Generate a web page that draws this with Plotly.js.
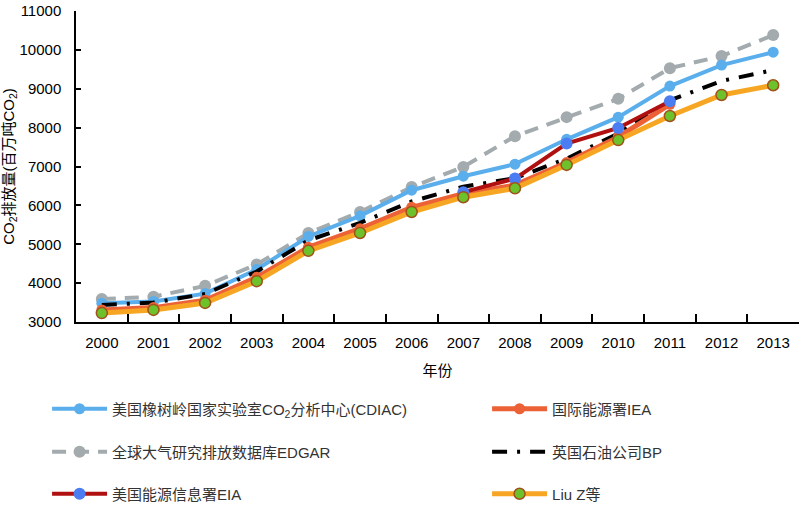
<!DOCTYPE html>
<html>
<head>
<meta charset="utf-8">
<script src="https://cdn.plot.ly/plotly-3.0.1.min.js"></script>
<style>html,body{margin:0;padding:0;background:#fff;}#chart{width:800px;height:505px;}</style>
</head>
<body>
<div id="chart"></div>
<script>
var years = ['2000','2001','2002','2003','2004','2005','2006','2007','2008','2009','2010','2011','2012','2013'];
var cdiac = [3480, 3530, 3730, 4350, 5200, 5730, 6390, 6750, 7060, 7700, 8270, 9070, 9610, 9940];
var edgar = [3590, 3650, 3930, 4480, 5290, 5830, 6470, 6990, 7780, 8270, 8740, 9530, 9840, 10380];
var eiaYears = ['2007','2008','2009','2010','2011'];
var eia = [6340, 6690, 7590, 7990, 8680];
var ieaYears = ['2000','2001','2002','2003','2004','2005','2006','2007','2008','2009','2010','2011'];
var iea = [3310, 3370, 3560, 4150, 4920, 5400, 5950, 6300, 6520, 7100, 7760, 8600];
var bp = [3440, 3500, 3720, 4300, 5100, 5550, 6100, 6480, 6700, 7200, 7850, 8700, 9200, 9480];
var liuz = [3230, 3310, 3490, 4050, 4830, 5290, 5830, 6210, 6440, 7040, 7680, 8300, 8840, 9090];

var names = {
  cdiac: '美国橡树岭国家实验室CO<sub>2</sub>分析中心(CDIAC)',
  iea: '国际能源署IEA',
  edgar: '全球大气研究排放数据库EDGAR',
  bp: '英国石油公司BP',
  eia: '美国能源信息署EIA',
  liuz: 'Liu Z等'
};

var traces = [
  {x: years, y: edgar, name: names.edgar, legend: 'legend3', mode: 'lines+markers',
   line: {color: '#A3ABAE', width: 4, dash: '14px,9px'}, marker: {color: '#A3ABAE', size: 12}},
  {x: years, y: cdiac, name: names.cdiac, legend: 'legend', mode: 'lines+markers',
   line: {color: '#5AAEEC', width: 4}, marker: {color: '#5AAEEC', size: 11}},
  {x: years, y: bp, name: names.bp, legend: 'legend4', mode: 'lines',
   line: {color: '#000000', width: 4, dash: '15px,10px,3px,10px'}},
  {x: ieaYears, y: iea, name: names.iea, legend: 'legend2', mode: 'lines+markers',
   line: {color: '#EC6236', width: 5}, marker: {color: '#EC6236', size: 11}},
  {x: eiaYears, y: eia, name: names.eia, legend: 'legend5', mode: 'lines+markers',
   line: {color: '#B0100F', width: 4}, marker: {color: '#4A7CF2', size: 12}},
  {x: years, y: liuz, name: names.liuz, legend: 'legend6', mode: 'lines+markers',
   line: {color: '#F6A623', width: 5}, marker: {color: '#6DC22B', size: 11, line: {color: '#A0521A', width: 1.5}}}
];

var fontFam = 'Liberation Sans, Noto Sans CJK SC, sans-serif';
function lg(xpx, ypx) {
  return {
    orientation: 'v', itemwidth: 55,
    xanchor: 'left', yanchor: 'middle',
    x: -0.04 + (xpx - 55) / 723, y: (322 - ypx) / 311,
    font: {family: fontFam, size: 15, color: '#333333'},
    bgcolor: 'rgba(0,0,0,0)'
  };
}

var layout = {
  width: 800, height: 505,
  margin: {l: 76, r: 1, t: 11, b: 183, autoexpand: false},
  paper_bgcolor: '#ffffff', plot_bgcolor: '#ffffff',
  font: {family: fontFam, size: 15, color: '#000000'},
  showlegend: true,
  legend: lg(55, 409),
  legend2: lg(495, 409),
  legend3: lg(55, 452),
  legend4: lg(495, 452),
  legend5: lg(55, 494),
  legend6: lg(495, 494),
  xaxis: {
    type: 'category', categoryorder: 'array', categoryarray: years,
    range: [-0.5, 13.5],
    showline: true, linecolor: '#000000', linewidth: 1.5,
    ticks: 'inside', ticklen: 8, tickcolor: '#000000', tickwidth: 1.5, tickson: 'boundaries',
    showgrid: false, zeroline: false,
    tickfont: {size: 15, color: '#000000'},
    ticklabelstandoff: 6,
    title: {text: '年份', font: {size: 15, color: '#000000'}, standoff: 16}
  },
  yaxis: {
    range: [3000, 11000], dtick: 1000, tick0: 3000, tickformat: 'd',
    showline: true, linecolor: '#000000', linewidth: 1.5,
    ticks: 'inside', ticklen: 5, tickcolor: '#000000', tickwidth: 1.5,
    showgrid: false, zeroline: false,
    tickfont: {size: 15, color: '#000000'},
    ticklabelstandoff: 10,
    title: {text: 'CO<sub>2</sub>排放量(百万吨CO<sub>2</sub>)', font: {size: 15, color: '#000000'}, standoff: 2}
  }
};

Plotly.newPlot('chart', traces, layout, {displayModeBar: false, responsive: false});
</script>
</body>
</html>
